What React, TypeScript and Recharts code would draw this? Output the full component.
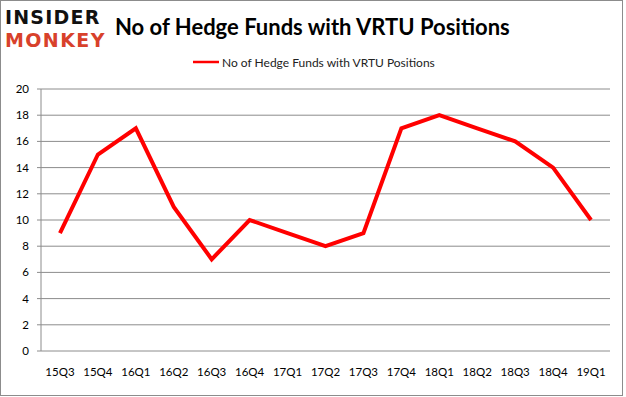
import React from "react";
import { LineChart, Line, XAxis, YAxis, CartesianGrid } from "recharts";

const quarters = ["15Q3", "15Q4", "16Q1", "16Q2", "16Q3", "16Q4", "17Q1", "17Q2", "17Q3", "17Q4", "18Q1", "18Q2", "18Q3", "18Q4", "19Q1"];
const funds = [9, 15, 17, 11, 7, 10, 9, 8, 9, 17, 18, 17, 16, 14, 10];
const yTicks = [0, 2, 4, 6, 8, 10, 12, 14, 16, 18, 20];
const seriesName = "No of Hedge Funds with VRTU Positions";

const data = quarters.map((q, i) => ({ x: i + 0.5, q, v: funds[i] }));
const centerTicks = quarters.map((_, i) => i + 0.5);
const boundaryTicks = quarters.map((_, i) => i).concat([quarters.length]);

const FONT = "Lato, 'Open Sans', sans-serif";

export default function App() {
  return (
    <div style={{ position: "absolute", left: 0, top: 0, width: 626, height: 397, background: "#fff", fontFamily: FONT }}>
      <div style={{ position: "absolute", left: 0, top: 0, width: 621, height: 394, border: "1px solid #8c8c8c" }} />
      <div style={{ position: "absolute", left: 5, top: 6, fontFamily: "'DejaVu Sans', sans-serif", fontWeight: 900, fontSize: 19, lineHeight: "22px", color: "#111", letterSpacing: 1.2, whiteSpace: "nowrap" }}>
        INSIDER
      </div>
      <div style={{ position: "absolute", left: 5, top: 29, fontFamily: "'DejaVu Sans', sans-serif", fontWeight: 900, fontSize: 19, lineHeight: "22px", color: "#d8412b", letterSpacing: 1.4, whiteSpace: "nowrap" }}>
        MONKEY
      </div>
      <div style={{ position: "absolute", left: 115, top: 13, fontFamily: FONT, fontWeight: 700, fontSize: 22, color: "#000", whiteSpace: "nowrap" }}>
        No of Hedge Funds with VRTU Positions
      </div>
      <div style={{ position: "absolute", left: 193, top: 54, height: 16, display: "flex", alignItems: "center", fontFamily: FONT, fontSize: 12, color: "#222", whiteSpace: "nowrap" }}>
        <svg width={26} height={4} style={{ marginRight: 3 }}>
          <line x1={0} y1={2} x2={26} y2={2} stroke="#ff0000" strokeWidth={2.5} />
        </svg>
        <span>{seriesName}</span>
      </div>
      <LineChart width={626} height={397} data={data} margin={{ top: 89, right: 16, bottom: 16, left: 0 }} style={{ position: "absolute", left: 0, top: 0 }}>
        <CartesianGrid vertical={false} stroke="#8c8c8c" strokeWidth={1} />
        <XAxis
          xAxisId="b"
          type="number"
          dataKey="x"
          domain={[0, quarters.length]}
          ticks={boundaryTicks}
          tick={{ fill: "transparent", fontSize: 1 }}
          height={0}
          stroke="#8c8c8c"
          tickSize={5}
          interval={0}
        />
        <XAxis
          type="number"
          dataKey="x"
          domain={[0, quarters.length]}
          ticks={centerTicks}
          tickFormatter={(v: number) => quarters[Math.round(v - 0.5)]}
          axisLine={false}
          tickLine={false}
          tick={{ fill: "#000", fontSize: 11.5, fontFamily: FONT }}
          tickMargin={11}
          height={30}
          interval={0}
        />
        <YAxis
          domain={[0, 20]}
          ticks={yTicks}
          width={41}
          stroke="#8c8c8c"
          tickSize={4}
          tick={{ fill: "#000", fontSize: 11.5, fontFamily: FONT }}
          tickMargin={8}
          interval={0}
        />
        <Line
          dataKey="v"
          name={seriesName}
          stroke="#ff0000"
          strokeWidth={4}
          dot={false}
          isAnimationActive={false}
        />
      </LineChart>
    </div>
  );
}
